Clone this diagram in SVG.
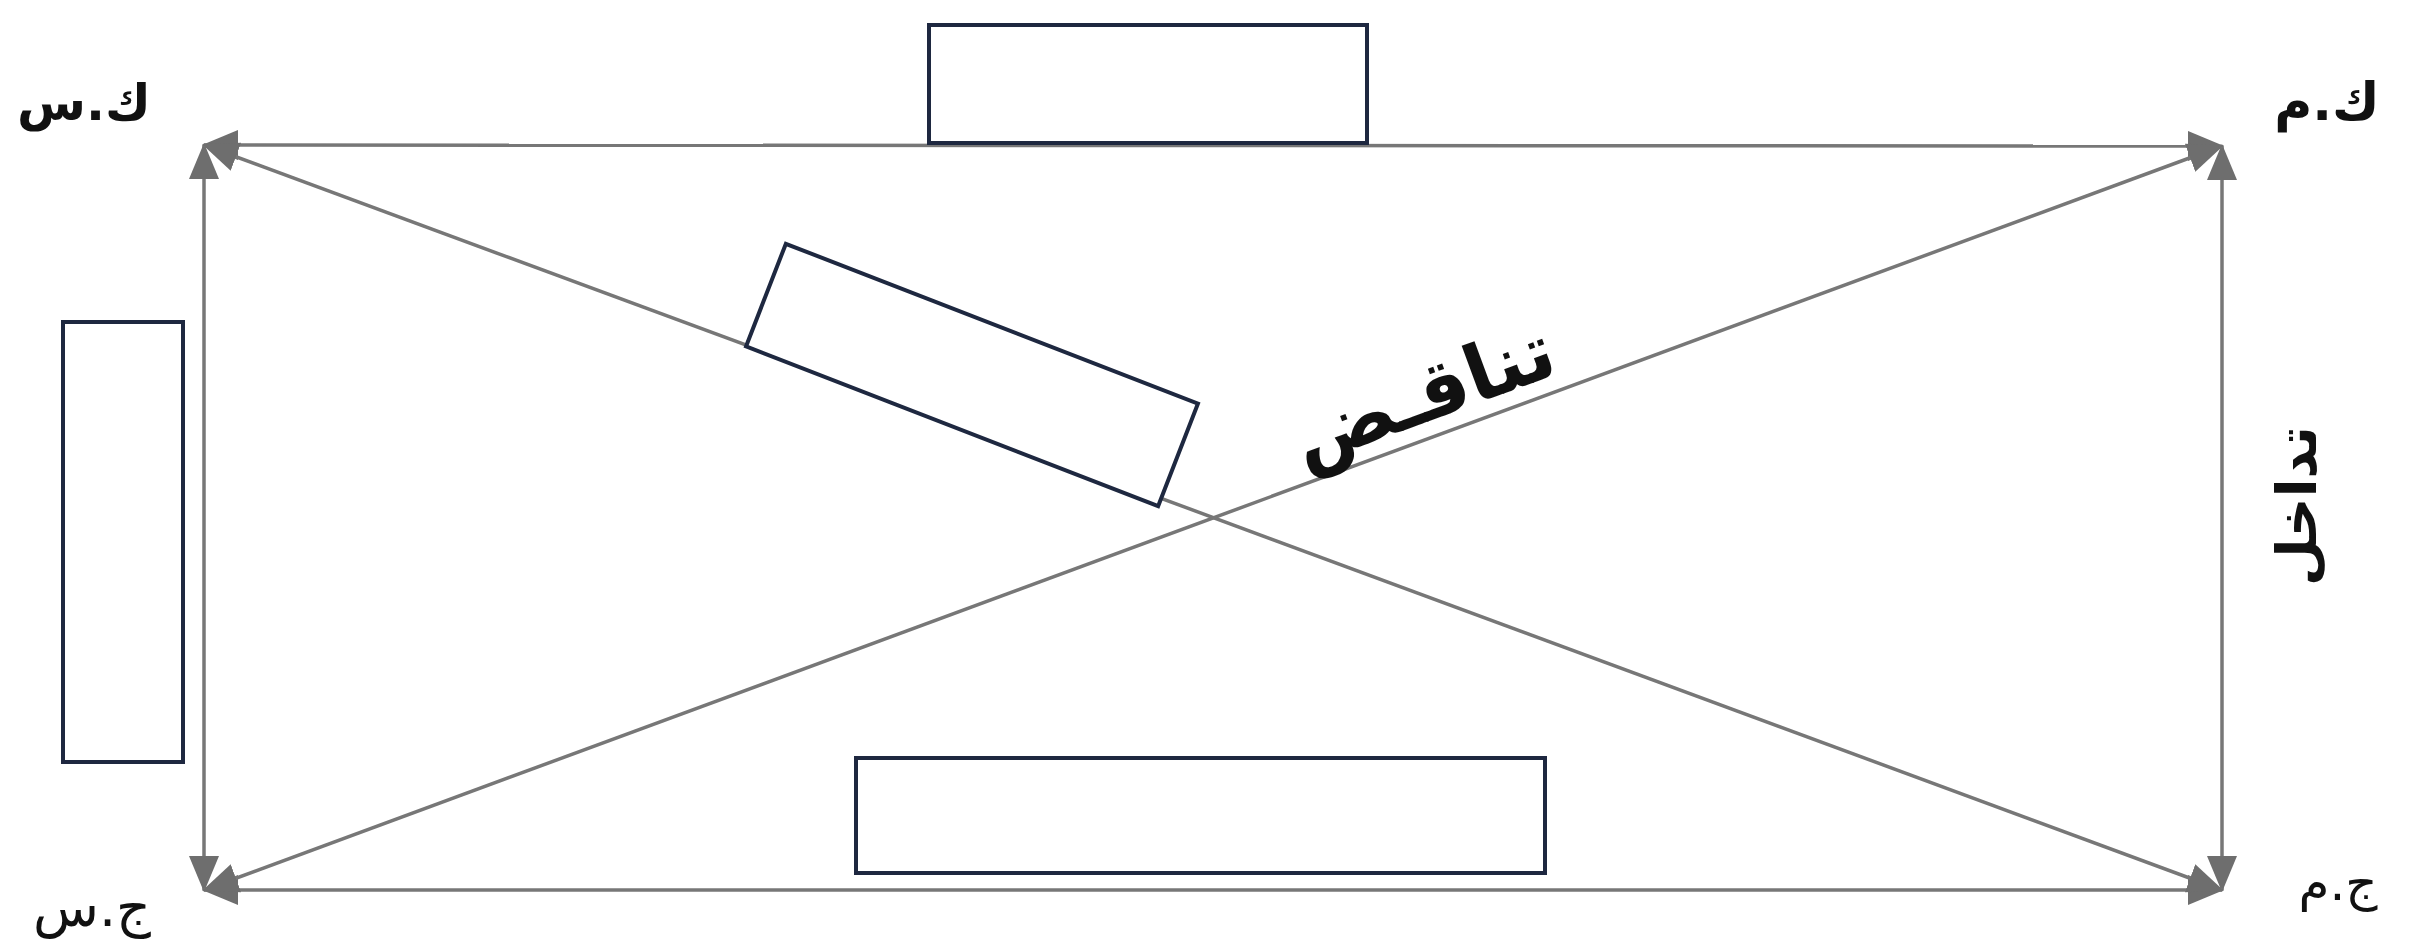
<svg xmlns="http://www.w3.org/2000/svg" width="2410" height="939" viewBox="0 0 2410 939">
<style>
.conn{stroke:#777777;stroke-width:3.5;fill:none;marker-start:url(#ah);marker-end:url(#ah)}
.box{fill:#ffffff;stroke:#1e2840;stroke-width:4}
.lbl{font-family:"DejaVu Sans","Noto Sans",sans-serif;fill:#111111;text-anchor:middle}
</style>
<defs>
<marker id="ah" viewBox="0 0 36 30" refX="34" refY="15" markerWidth="36" markerHeight="30" markerUnits="userSpaceOnUse" orient="auto-start-reverse">
<path d="M0,0 L36,15 L0,30 Z" fill="#6e6e6e"/>
</marker>
</defs>
<rect width="2410" height="939" fill="#ffffff"/>
<g id="connectors">
<line class="conn" x1="204" y1="145" x2="2222" y2="146"/>
<line class="conn" x1="204" y1="890" x2="2222" y2="890"/>
<line class="conn" x1="204" y1="145" x2="204" y2="890"/>
<line class="conn" x1="2222" y1="146" x2="2222" y2="890"/>
<line class="conn" x1="204" y1="145" x2="2222" y2="890"/>
<line class="conn" x1="204" y1="890" x2="2222" y2="146"/>
</g>
<g id="box-top"><rect class="box" x="929" y="25" width="438" height="118"/></g>
<g id="box-left"><rect class="box" x="63" y="322" width="120" height="440"/></g>
<g id="box-bottom"><rect class="box" x="856" y="758" width="689" height="115"/></g>
<g id="box-tilted"><rect class="box" x="-221" y="-55" width="442" height="110" transform="translate(972 375) rotate(21.2)"/></g>
<g id="label-ks"><text class="lbl" x="84" y="120" font-size="50" font-weight="bold">ك.س</text></g>
<g id="label-km"><text class="lbl" x="2327" y="120" font-size="52" font-weight="bold">ك.م</text></g>
<g id="label-js"><text class="lbl" x="92" y="926" font-size="54">ج.س</text></g>
<g id="label-jm"><text class="lbl" x="2338" y="900" font-size="50">ج.م</text></g>
<g id="label-tanaqud"><text class="lbl" x="1432" y="420" font-size="78" font-weight="bold" transform="rotate(-20.2 1432 420)">تناقـض</text></g>
<g id="label-tadakhul"><text class="lbl" x="2316" y="506" font-size="55" font-weight="bold" transform="rotate(-90 2316 506)">تداخل</text></g>
</svg>
